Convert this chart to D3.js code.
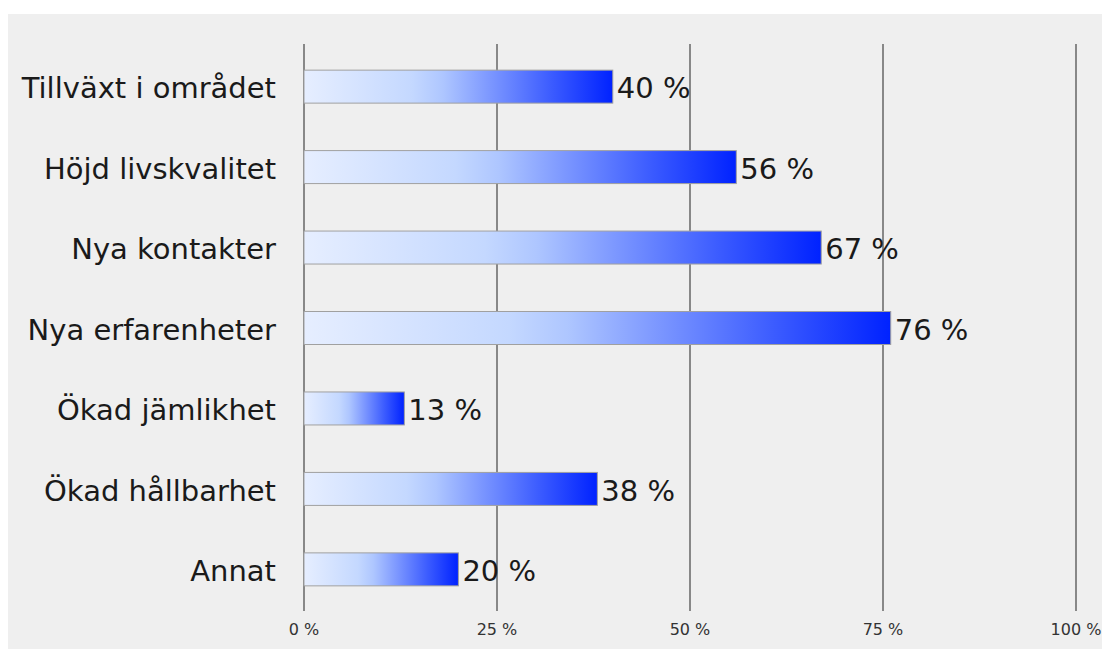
<!DOCTYPE html>
<html lang="sv">
<head>
    <meta charset="UTF-8">
    <script src="https://cdn.jsdelivr.net/npm/d3@7"></script>
    <style type="text/css">
        body { margin: 0; background: #fff; }
        svg text { font-family: "DejaVu Sans", Verdana, sans-serif; }
    </style>
</head>
<body>
<svg id="chart" width="1102" height="649"></svg>
<script>
    // data
    var categories = ["Tillväxt i området", "Höjd livskvalitet", "Nya kontakter",
        "Nya erfarenheter", "Ökad jämlikhet", "Ökad hållbarhet", "Annat"];
    var values = [40, 56, 67, 76, 13, 38, 20];
    var ticks = [0, 25, 50, 75, 100];

    var svg = d3.select("#chart");

    // gray panel
    svg.append("rect")
        .attr("x", 8).attr("y", 14)
        .attr("width", 1094).attr("height", 635)
        .attr("fill", "#efefef");

    // scales
    var x = d3.scaleLinear().domain([0, 100]).range([304, 1076]);
    var y = d3.scaleBand().domain(categories).range([46, 610]).paddingInner(0.59).paddingOuter(0.3);

    // gradient for bars
    var grad = svg.append("defs").append("linearGradient")
        .attr("id", "barGrad")
        .attr("x1", "0%").attr("x2", "100%").attr("y1", "0%").attr("y2", "0%");
    [[0, "#e6eeff"], [0.35, "#c4d8ff"], [0.45, "#aec6ff"], [0.6, "#7d98ff"], [0.8, "#3c5cff"], [1, "#0022ff"]]
        .forEach(function(s) {
            grad.append("stop").attr("offset", s[0]).attr("stop-color", s[1]);
        });

    // grid lines
    svg.append("g").selectAll("line")
        .data(ticks)
        .enter().append("line")
        .attr("x1", function(d) { return x(d); })
        .attr("x2", function(d) { return x(d); })
        .attr("y1", 44).attr("y2", 611)
        .attr("stroke", "#888").attr("stroke-width", 2);

    // tick labels
    svg.append("g").selectAll("text")
        .data(ticks)
        .enter().append("text")
        .attr("x", function(d) { return x(d); })
        .attr("y", 635)
        .attr("text-anchor", "middle")
        .attr("font-size", 16)
        .attr("fill", "#333")
        .text(function(d) { return d + " %"; });

    var rows = categories.map(function(c, i) { return { cat: c, val: values[i] }; });

    // bars
    svg.append("g").selectAll("rect")
        .data(rows)
        .enter().append("rect")
        .attr("x", x(0))
        .attr("y", function(d) { return y(d.cat); })
        .attr("width", function(d) { return x(d.val) - x(0); })
        .attr("height", y.bandwidth())
        .attr("fill", "url(#barGrad)")
        .attr("stroke", "#a0a0a0").attr("stroke-width", 1);

    // value labels
    svg.append("g").selectAll("text")
        .data(rows)
        .enter().append("text")
        .attr("x", function(d) { return x(d.val) + 4; })
        .attr("y", function(d) { return y(d.cat) + y.bandwidth() / 2; })
        .attr("dy", "0.4em")
        .attr("font-size", 29)
        .attr("fill", "#1a1a1a")
        .text(function(d) { return d.val + " %"; });

    // category labels
    svg.append("g").selectAll("text")
        .data(rows)
        .enter().append("text")
        .attr("x", 276)
        .attr("y", function(d) { return y(d.cat) + y.bandwidth() / 2; })
        .attr("dy", "0.4em")
        .attr("text-anchor", "end")
        .attr("font-size", 29)
        .attr("fill", "#1a1a1a")
        .text(function(d) { return d.cat; });
</script>
</body>
</html>
